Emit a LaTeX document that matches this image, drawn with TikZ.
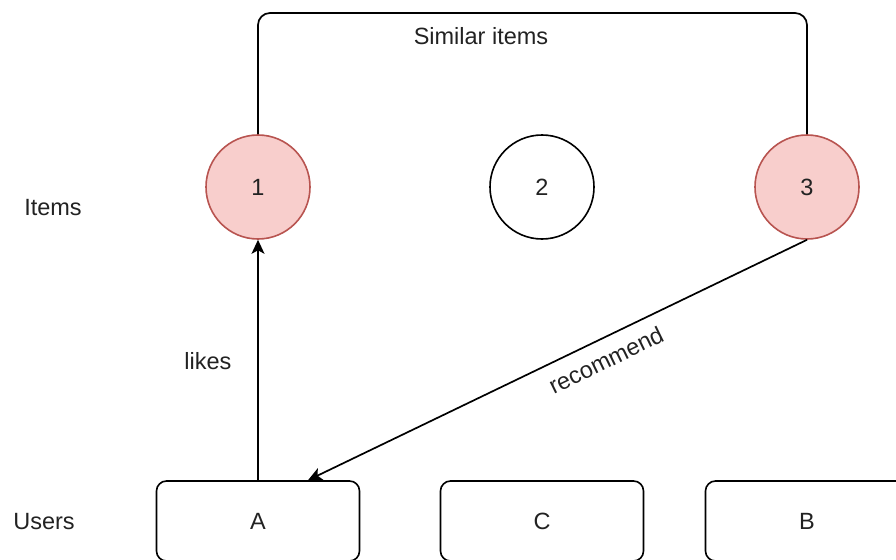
\documentclass[tikz,border=0pt]{standalone}
\usepackage{fontspec}
\setmainfont{Liberation Sans}
\usetikzlibrary{arrows.meta,calc}
\definecolor{pinkfill}{HTML}{F8CECC}
\definecolor{pinkline}{HTML}{B85450}
\definecolor{ink}{HTML}{222222}

\begin{document}
\begin{tikzpicture}[x=1pt,y=-1pt,
  every node/.style={font=\fontsize{23.5}{27}\selectfont, text=ink},
  item/.style={circle, draw=black, line width=1.6pt, minimum size=104pt, inner sep=0pt, fill=white},
  picked/.style={item, draw=pinkline, fill=pinkfill},
  user/.style={rectangle, rounded corners=10pt, draw=black, line width=1.6pt, minimum width=203pt, minimum height=80pt},
  link/.style={draw=black, line width=1.7pt},
  arr/.style={link, -{Stealth[length=14pt,width=13pt,inset=3.5pt]}}]

\useasboundingbox (0,0) rectangle (896,559);

% row labels
\node (itemsLabel) at (53,208) {Items};
\node (usersLabel) at (44,522) {Users};

% items
\node[picked] (c1) at (258,187) {1};
\node[item]   (c2) at (542,187) {2};
\node[picked] (c3) at (807,187) {3};

% users
\node[user] (a) at (258,521) {A};
\node[user] (c) at (542,521) {C};
\node[user] (b) at (807,521) {B};

% similarity link between items 1 and 3
\coordinate (top) at (530,13);
\draw[link, rounded corners=12pt] (c1.north) |- (top) -| (c3.north);
\node (sim) at (481,36) {Similar items};

% user A likes item 1
\draw[arr] (a.north) -- (c1.south);
\node (likes) at (208,361) {likes};

% item 3 recommended to user A
\coordinate (rtip) at ($(a.north)+(50,0)$);
\draw[arr] (c3.south) -- (rtip);
\node[rotate=26] (rec) at (606,360) {recommend};

\end{tikzpicture}
\end{document}
